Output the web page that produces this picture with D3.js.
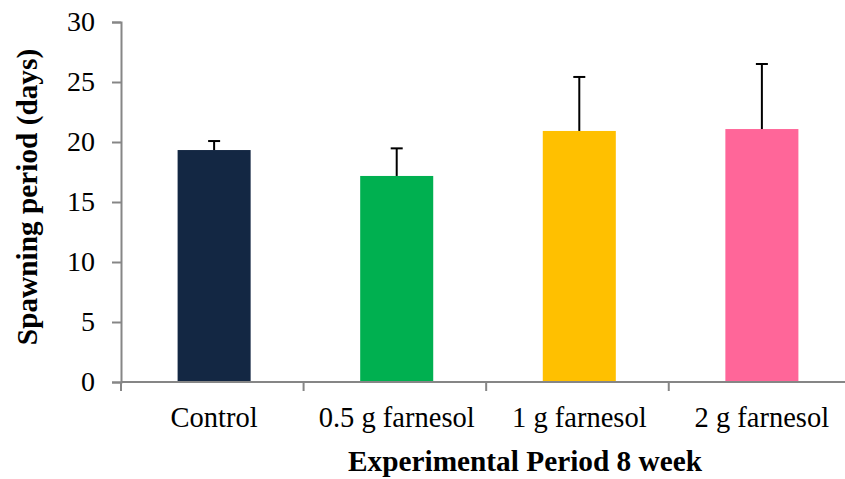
<!DOCTYPE html>
<html>
<head>
<meta charset="utf-8">
<script src="https://cdn.jsdelivr.net/npm/d3@7/dist/d3.min.js"></script>
<style>
  html, body { margin: 0; padding: 0; background: #ffffff; }
  svg { display: block; }
  text { font-family: "Liberation Serif", "Times New Roman", serif; fill: #000; }
</style>
</head>
<body>
<svg id="chart" width="845" height="479"></svg>
<script>
// Spawning period per treatment group (mean and standard deviation, days)
const groups = ["Control", "0.5 g farnesol", "1 g farnesol", "2 g farnesol"];
const meanDays = [19.33, 17.17, 20.92, 21.08];
const sdDays = [0.75, 2.3, 4.5, 5.42];
const barColors = ["#132743", "#00b050", "#ffc000", "#ff6699"];
const yTicks = [0, 5, 10, 15, 20, 25, 30];

const svg = d3.select("#chart");
const plotLeft = 121, plotRight = 855, plotTop = 22, plotBottom = 382;

const x = d3.scaleBand()
  .domain(groups)
  .range([plotLeft, plotRight])
  .paddingInner(0.6)
  .paddingOuter(0.31);

const y = d3.scaleLinear().domain([0, 30]).range([plotBottom, plotTop]);

const axisColor = "#868686";

// Y axis
const yAxis = svg.append("g")
  .attr("transform", `translate(${plotLeft},0)`)
  .call(d3.axisLeft(y).tickValues(yTicks).tickSize(9).tickPadding(17).tickFormat(d3.format("d")));
yAxis.select(".domain").attr("stroke", axisColor).attr("stroke-width", 2);
yAxis.selectAll(".tick line").attr("stroke", axisColor).attr("stroke-width", 2);
yAxis.selectAll(".tick text")
  .attr("font-family", "Liberation Serif, serif")
  .attr("font-size", 28)
  .attr("fill", "#000");

// Bars
svg.append("g").selectAll("rect")
  .data(groups)
  .join("rect")
  .attr("x", d => x(d))
  .attr("width", x.bandwidth())
  .attr("y", (d, i) => y(meanDays[i]))
  .attr("height", (d, i) => y(0) - y(meanDays[i]))
  .attr("fill", (d, i) => barColors[i]);

// Upper error bars
const err = svg.append("g").attr("stroke", "#000").attr("stroke-width", 2);
groups.forEach((g, i) => {
  const cx = x(g) + x.bandwidth() / 2;
  err.append("line")
    .attr("x1", cx).attr("x2", cx)
    .attr("y1", y(meanDays[i])).attr("y2", y(meanDays[i] + sdDays[i]));
  err.append("line")
    .attr("x1", cx - 6).attr("x2", cx + 6)
    .attr("y1", y(meanDays[i] + sdDays[i])).attr("y2", y(meanDays[i] + sdDays[i]));
});

// X axis with boundary ticks between categories
const xg = svg.append("g");
xg.append("line")
  .attr("x1", plotLeft).attr("x2", plotRight)
  .attr("y1", plotBottom).attr("y2", plotBottom)
  .attr("stroke", axisColor).attr("stroke-width", 2);
const step = x.step();
d3.range(groups.length + 1).forEach(k => {
  const tx = plotLeft + k * step;
  xg.append("line")
    .attr("x1", tx).attr("x2", tx)
    .attr("y1", plotBottom).attr("y2", plotBottom + 9)
    .attr("stroke", axisColor).attr("stroke-width", 2);
});
xg.selectAll("text.cat")
  .data(groups)
  .join("text")
  .attr("class", "cat")
  .attr("x", d => x(d) + x.bandwidth() / 2)
  .attr("y", 427)
  .attr("text-anchor", "middle")
  .attr("font-size", 28.5)
  .text(d => d);

// Axis titles
svg.append("text")
  .attr("x", 525)
  .attr("y", 471)
  .attr("text-anchor", "middle")
  .attr("font-size", 29.3)
  .attr("font-weight", "bold")
  .text("Experimental Period 8 week");

svg.append("text")
  .attr("transform", "translate(37,197) rotate(-90)")
  .attr("text-anchor", "middle")
  .attr("font-size", 29.3)
  .attr("font-weight", "bold")
  .text("Spawning period (days)");
</script>
</body>
</html>
